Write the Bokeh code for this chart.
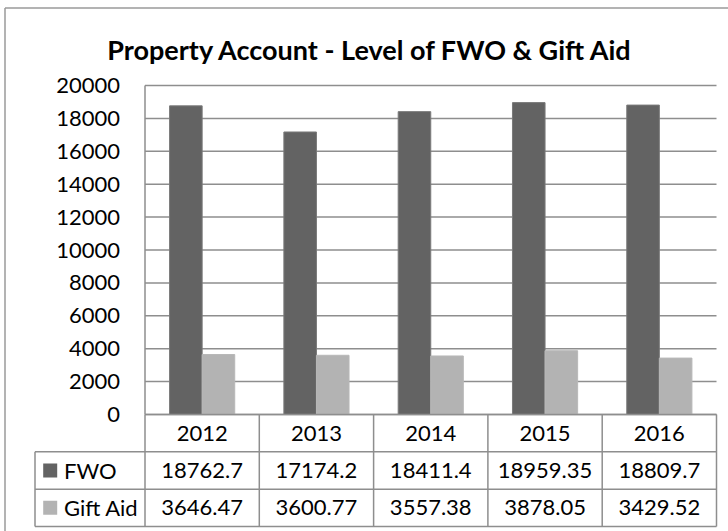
from bokeh.plotting import figure
from bokeh.models import Range1d, FixedTicker, BasicTickFormatter
from bokeh.core.properties import value
from bokeh.embed import file_html
from bokeh.resources import INLINE

# ---------------- data ----------------
years = ["2012", "2013", "2014", "2015", "2016"]
fwo = [18762.7, 17174.2, 18411.4, 18959.35, 18809.7]
gift_aid = [3646.47, 3600.77, 3557.38, 3878.05, 3429.52]
series_names = ["FWO", "Gift Aid"]
y_ticks = [0, 2000, 4000, 6000, 8000, 10000, 12000, 14000, 16000, 18000, 20000]
title_text = "Property Account - Level of FWO & Gift Aid"

# ---------------- layout (pixels) ----------------
W, H = 728, 531
PLOT_L, PLOT_R = 144.5, 716.0
Y0_PX, YTOP_PX = 414.0, 85.0
TBL_L, TBL_B = 34.5, 526.0
ROW_PX = (TBL_B - Y0_PX) / 3.0
YMAX = y_ticks[-1]
n = len(years)
ux = (PLOT_R - PLOT_L) / n
uy = YMAX / (Y0_PX - YTOP_PX)


def X(px):
    return (px - PLOT_L) / ux


def Y(px):
    return (Y0_PX - px) * uy


def R(px):
    return (TBL_B - px) / ROW_PX


FONT = "Lato"
FS = "22px"
LINE_C = "#8e8e8e"
FWO_C = "#636363"
GA_C = "#b3b3b3"

p = figure(width=W, height=H, output_backend="svg", toolbar_location=None,
           x_range=Range1d(X(0), X(W)), y_range=Range1d(Y(H), Y(0)),
           min_border=0, title=None)
p.extra_y_ranges = {"tbl": Range1d(R(H), R(0))}
p.outline_line_color = None
p.background_fill_color = "white"
p.border_fill_color = "white"
p.xgrid.visible = False
p.ygrid.visible = False
p.xaxis.visible = False

ya = p.yaxis[0]
ya.fixed_location = 0
ya.ticker = FixedTicker(ticks=y_ticks)
ya.formatter = BasicTickFormatter(use_scientific=False)
ya.axis_line_color = None
ya.major_tick_line_color = None
ya.minor_tick_line_color = None
ya.major_tick_in = 0
ya.major_tick_out = 0
ya.major_label_standoff = 25
ya.major_label_text_font = FONT
ya.major_label_text_font_size = FS
ya.major_label_text_color = "#000000"

# gridlines (behind bars)
p.segment(x0=[0] * len(y_ticks), x1=[n] * len(y_ticks), y0=y_ticks, y1=y_ticks,
          line_color=LINE_C, line_width=1.5)

# bars
BW = 0.285
centers = [i + 0.5 for i in range(n)]
p.vbar(x=[c - BW / 2 for c in centers], top=fwo, bottom=0, width=BW,
       fill_color=FWO_C, line_color="#7a7a7a", line_width=1)
p.vbar(x=[c + BW / 2 for c in centers], top=gift_aid, bottom=0, width=BW,
       fill_color=GA_C, line_color="#b8b8b8", line_width=1)

# axis line (left edge of plot area)
p.segment(x0=[0], x1=[0], y0=[0], y1=[YMAX], line_color=LINE_C, line_width=1.5)

# table lines
xl = X(TBL_L)
p.segment(x0=[0, xl, xl, xl], x1=[n, n, n, n], y0=[3, 2, 1, 0], y1=[3, 2, 1, 0],
          line_color=LINE_C, line_width=1.5, y_range_name="tbl")
vx = [xl] + list(range(n + 1))
vy0 = [0] * len(vx)
vy1 = [2] + [3] * (n + 1)
p.segment(x0=vx, x1=vx, y0=vy0, y1=vy1, line_color=LINE_C, line_width=1.5,
          y_range_name="tbl")

# table texts
p.text(x=centers, y=[2.5] * n, text=years, text_font=value(FONT), text_font_size=FS,
       text_align="center", text_baseline="middle", text_color="#000000",
       y_range_name="tbl")
p.text(x=centers, y=[1.5] * n, text=[str(v) for v in fwo], text_font=value(FONT),
       text_font_size=FS, text_align="center", text_baseline="middle",
       text_color="#000000", y_range_name="tbl")
p.text(x=centers, y=[0.5] * n, text=[str(v) for v in gift_aid], text_font=value(FONT),
       text_font_size=FS, text_align="center", text_baseline="middle",
       text_color="#000000", y_range_name="tbl")

# legend keys + series names
p.rect(x=[X(49.7)] * 2, y=[1.5, 0.5], width=14, height=14, width_units="screen",
       height_units="screen", fill_color=[FWO_C, GA_C], line_color=None,
       y_range_name="tbl")
p.text(x=[X(63.5)] * 2, y=[1.5, 0.5], text=series_names, text_font=value(FONT),
       text_font_size=FS, text_align="left", text_baseline="middle",
       text_color="#000000", y_range_name="tbl")

# title
p.text(x=[X(370)], y=[Y(49.3)], text=[title_text], text_font=value(FONT),
       text_font_size="27px", text_font_style="bold", text_align="center",
       text_baseline="alphabetic", text_color="#000000")

# outer chart border
p.multi_line(xs=[[X(4.5), X(4.5)], [X(4.5), X(W)]],
             ys=[[Y(H + 5), Y(7.5)], [Y(7.5), Y(7.5)]],
             line_color="#9a9a9a", line_width=1.5)

open("out.html", "w").write(file_html(p, INLINE))
